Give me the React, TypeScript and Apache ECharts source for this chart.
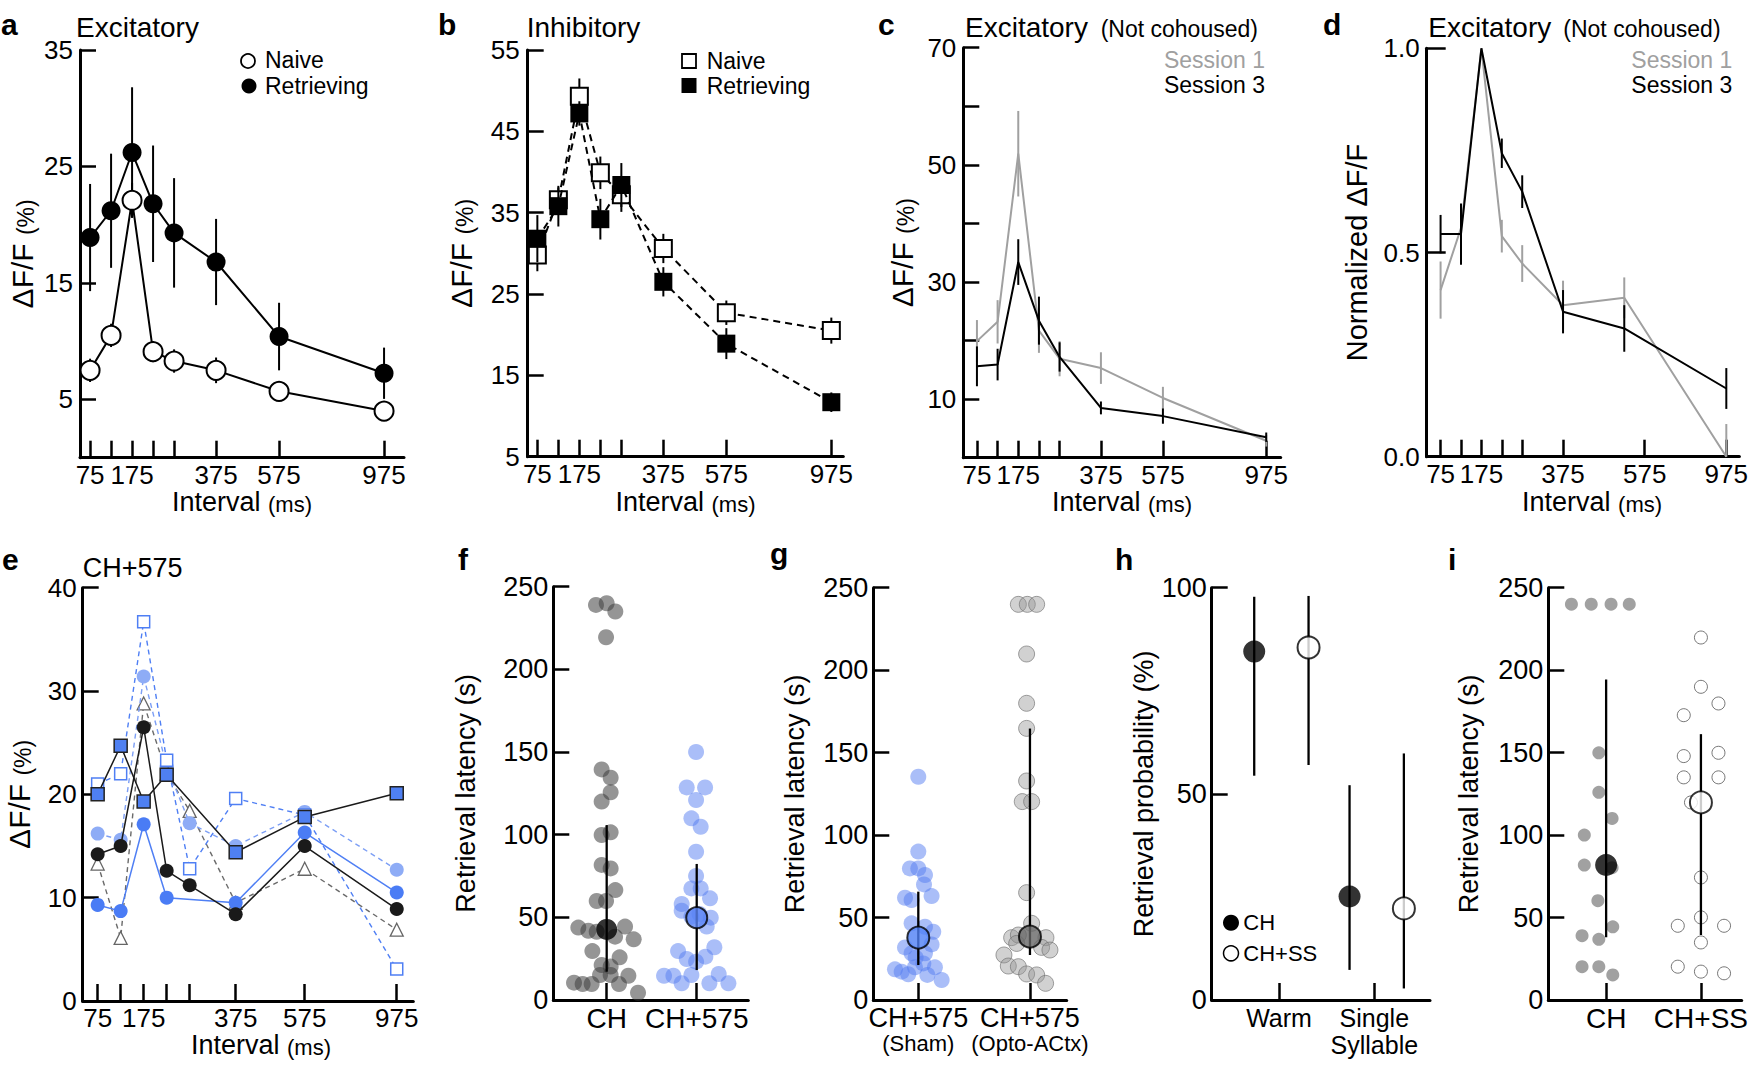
import React, { useEffect, useRef } from 'react';
import * as echarts from 'echarts';

const FONT = '"Liberation Sans", Arial, Helvetica, sans-serif';

// ---------- shared interval axis ----------
const intervalsMs = [75, 125, 175, 225, 275, 375, 575, 975];
const labelledIntervals = [75, 175, 375, 575, 975];
const posAC = [0, 1, 2, 3, 4, 6, 9, 14];
const tickPosD = [0, 1, 2, 3, 4, 6, 10, 14];
const dataPosD = [0, 1, 2, 3, 4, 6, 9, 14];
const posE = [0, 1, 2, 3, 4, 6, 9, 13];

// ---------- panel a (Excitatory) ----------
const aNaive = [7.5, 10.5, 22.1, 9.1, 8.3, 7.5, 5.7, 4.0];
const aNaiveErr = [1.0, 1.0, 1.5, 0.9, 1.0, 1.1, 0.5, 0.4];
const aRetr = [18.9, 21.2, 26.2, 21.8, 19.3, 16.8, 10.4, 7.25];
const aRetrErr = [4.6, 4.9, 5.6, 5.0, 4.7, 3.7, 2.9, 2.2];

// ---------- panel b (Inhibitory) ----------
const bNaive = [29.8, 36.6, 49.3, 39.9, 37.2, 30.6, 22.7, 20.5];
const bNaiveErr = [2.0, 1.5, 2.2, 2.0, 2.1, 1.8, 1.5, 1.6];
const bRetr = [31.8, 35.8, 47.2, 34.2, 38.4, 26.5, 18.9, 11.7];
const bRetrErr = [2.9, 2.5, 1.5, 2.5, 2.7, 1.8, 1.9, 1.2];

// ---------- panel c (Excitatory, not cohoused) ----------
const cS1 = [19.9, 23.2, 51.9, 21.7, 16.9, 15.3, 10.2, 2.9];
const cS1Err = [3.6, 3.7, 7.3, 3.8, 3.0, 2.7, 1.9, 1.0];
const cS3 = [15.6, 15.9, 33.4, 23.4, 17.2, 8.5, 7.1, 3.5];
const cS3Err = [3.4, 2.7, 3.9, 4.1, 2.5, 1.1, 1.3, 0.8];

// ---------- panel d (normalized) ----------
const dS1 = [0.408, 0.56, 1.0, 0.54, 0.473, 0.371, 0.389, 0.0];
const dS1Err = [0.07, 0.0, 0.0, 0.04, 0.045, 0.06, 0.05, 0.08];
const dS3 = [0.545, 0.545, 1.0, 0.743, 0.649, 0.355, 0.314, 0.167];
const dS3Err = [0.047, 0.075, 0.0, 0.036, 0.04, 0.053, 0.057, 0.05];

// ---------- panel e (CH+575 individual) ----------
const eBlueSq = [20.0, 24.7, 19.3, 21.9, null, 14.4, 17.8, 20.1];
const eBlackCirc = [14.2, 15.0, 26.5, 12.6, 11.2, 8.4, 15.0, 8.9];
const eBlueCirc = [9.3, 8.7, 17.1, 10.0, null, 9.5, 16.3, 10.5];
const eLightCirc = [16.2, 15.6, 31.4, 22.7, 17.2, 15.0, 18.3, 12.7];
const eOpenSq = [21.0, 22.0, 36.7, 23.3, 12.8, 19.6, 18.0, 3.1];
const eTri = [13.3, 6.1, 28.8, 22.0, 18.4, 9.5, 12.8, 6.9];

// ---------- panel f ----------
const fCats = ['CH', 'CH+575'];
const fCH = [239, 240, 235, 219.4, 139.5, 134.5, 125.6, 120, 99.8, 101.4, 81.7, 79.6, 66.5, 59.9, 59.9, 43.8, 41.9, 41.3, 44.4, 38.3, 36.7, 29.6, 25.8, 21.2, 20.2, 15.1, 15.1, 14.7, 10.5, 9.7, 9.7, 9.7, 4.4];
const fCHJit = [-0.119, 0, 0.096, -0.007, -0.056, 0.044, 0.044, -0.056, -0.056, 0.044, -0.056, 0.044, 0.096, -0.111, -0.007, -0.315, -0.204, -0.111, 0.204, 0.093, 0.3, -0.159, 0.144, -0.056, 0.044, -0.074, 0.044, 0.241, -0.363, -0.267, -0.167, 0.137, 0.348];
const fCH575 = [150, 128.6, 128.6, 121, 109.9, 104.8, 89.7, 75, 67.5, 67.5, 61.5, 58.1, 54, 50.4, 49.8, 44.4, 52, 29.6, 31.9, 24.8, 23.2, 26.2, 14.7, 14.7, 15.1, 15.7, 10.1, 10.1, 10.1];
const fCH575Jit = [-0.007, -0.111, 0.093, -0.007, -0.059, 0.044, -0.007, -0.007, -0.059, 0.044, 0.148, -0.167, -0.167, -0.059, 0.156, 0.111, 0.03, -0.207, 0.196, -0.111, -0.007, 0.096, -0.363, -0.259, -0.059, 0.244, -0.167, 0.141, 0.352];
const fMean = [42.7, 49.8];
const fLo = [17.1, 18.1];
const fHi = [105.8, 82.3];

// ---------- panel g ----------
const gSham = [135.4, 90, 79.8, 79.8, 75.8, 70.1, 62, 60.6, 63, 46.5, 44.4, 41.4, 31.9, 33.7, 28.3, 28.3, 25.7, 18.6, 17.2, 15.6, 19.8, 22.2, 19.8, 15.2, 12.1];
const gShamJit = [0, 0, -0.075, 0, 0.06, 0.051, -0.119, -0.06, 0.119, -0.06, 0.06, 0.134, -0.119, 0.119, -0.06, 0.06, -0.024, -0.209, -0.149, -0.09, -0.03, 0.045, 0.149, 0.081, 0.209];
const gOpto = [239.9, 239.9, 239.9, 209.8, 179.9, 164.7, 132.8, 120.3, 120.3, 65.1, 46.5, 37.8, 39.4, 34.3, 37.8, 31.9, 30.3, 27.3, 20.6, 20.2, 15.8, 15.2, 10.1];
const gOptoJit = [-0.104, -0.024, 0.06, -0.03, -0.03, -0.03, -0.03, -0.069, 0.015, -0.03, 0.015, -0.164, -0.104, -0.119, 0.143, 0.104, 0.179, -0.233, -0.194, -0.104, -0.03, 0.06, 0.14];
const gMean = [37.8, 38.4];
const gLo = [21.2, 27.3];
const gHi = [65.7, 164.6];

// ---------- panel h ----------
const hCats = ['Warm', 'Single\nSyllable'];
const hCH = [84.5, 25.1];
const hCHLo = [54.4, 7.3];
const hCHHi = [97.8, 52.1];
const hSS = [85.5, 22.2];
const hSSLo = [57, 2.8];
const hSSHi = [98, 59.8];

// ---------- panel i ----------
const iCats = ['CH', 'CH+SS'];
const iCH = [240, 240, 240, 240, 149.9, 125.9, 110.1, 100, 81.8, 80.2, 60.2, 39, 36.8, 44.4, 20.2, 20.2, 15.2];
const iCHJit = [-0.366, -0.157, 0.052, 0.244, -0.077, -0.077, 0.063, -0.23, -0.23, 0.063, -0.087, -0.254, -0.077, 0.07, -0.254, -0.077, 0.07];
const iSS = [219.8, 189.9, 179.8, 172.7, 147.9, 149.9, 135, 135, 119.8, 74.3, 50.1, 45, 45, 34.9, 20.2, 17.2, 16.2];
const iSSJit = [0, 0, 0.185, -0.181, -0.181, 0.185, -0.181, 0.185, -0.105, 0, 0, -0.244, 0.244, 0, -0.244, 0, 0.244];
const iMean = [81.8, 119.8];
const iLo = [38, 39.4];
const iHi = [194.3, 161.2];

// ---------- layout ----------
const GRIDS = [
  { left: 80, top: 50, width: 324, height: 407.7 },
  { left: 527.7, top: 50, width: 315.6, height: 406.7 },
  { left: 963.3, top: 47.7, width: 317.4, height: 410 },
  { left: 1426.7, top: 48.3, width: 316.6, height: 408.4 },
  { left: 82.7, top: 587.7, width: 330.6, height: 413.3 },
  { left: 553.3, top: 586.7, width: 195, height: 413.3 },
  { left: 873.3, top: 587.7, width: 193.4, height: 412.3 },
  { left: 1211.7, top: 587.7, width: 218.3, height: 412.3 },
  { left: 1548.3, top: 587.7, width: 195, height: 412.3 },
];

const AXLINE = { show: true, onZero: false, lineStyle: { color: '#000', width: 3 } };
const tick = (values: number[], length: number) => ({
  show: true, inside: true, length, customValues: values, lineStyle: { color: '#000', width: 2.5 },
});
const lbl = (values: number[], fontSize: number, margin: number, formatter?: any, rich?: any) => ({
  show: true, customValues: values, fontSize, fontFamily: FONT, color: '#000', margin, formatter, rich,
});

const nameRich = (big: number, small: number) => ({
  fontFamily: FONT, fontSize: big, color: '#000',
  rich: {
    m: { fontFamily: FONT, fontSize: big, color: '#000', lineHeight: big, verticalAlign: 'bottom' },
    s: { fontFamily: FONT, fontSize: small, color: '#000', lineHeight: small, verticalAlign: 'bottom' },
  },
});

function intervalX(gi: number, min: number, max: number, pos: number[], gap: number, padLeft: number) {
  const map: Record<string, string> = {};
  pos.forEach((p, i) => (map[String(p)] = String(intervalsMs[i])));
  const labelPos = pos.filter((_, i) => labelledIntervals.includes(intervalsMs[i]));
  return {
    gridIndex: gi, type: 'value', min, max,
    axisLine: AXLINE, axisTick: tick(pos, 17), splitLine: { show: false },
    axisLabel: lbl(labelPos, 26, 4, (v: number) => map[String(v)] ?? ''),
    name: '{m|Interval} {s|(ms)}', nameLocation: 'middle', nameGap: gap,
    nameTextStyle: { ...nameRich(27, 22), padding: [0, 0, 0, padLeft] },
  };
}

function catX(gi: number, min: number, max: number, cats: string[], fmt?: any, rich?: any) {
  return {
    gridIndex: gi, type: 'value', min, max,
    axisLine: AXLINE, axisTick: tick([1, 2], 17), splitLine: { show: false },
    axisLabel: lbl([1, 2], 28, 4, fmt ?? ((v: number) => cats[Math.round(v) - 1] ?? ''), rich),
  };
}

function yAx(gi: number, min: number, max: number, ticks: number[], labels: number[], fontSize: number,
  margin: number, name: string, gap: number, big: number, small: number, tickLen = 16, fmt?: any) {
  return {
    gridIndex: gi, type: 'value', min, max,
    axisLine: AXLINE, axisTick: tick(ticks, tickLen), splitLine: { show: false },
    axisLabel: lbl(labels, fontSize, margin, fmt),
    name, nameLocation: 'middle', nameGap: gap, nameRotate: 90, nameTextStyle: nameRich(big, small),
  };
}

function errSeries(gi: number, data: number[][], color: string, width: number, z: number) {
  return {
    type: 'custom', xAxisIndex: gi, yAxisIndex: gi, z, silent: true, clip: false,
    data, encode: { x: 0, y: [1, 2] },
    renderItem: (_p: any, api: any) => {
      const a = api.coord([api.value(0), api.value(1)]);
      const b = api.coord([api.value(0), api.value(2)]);
      return { type: 'line', shape: { x1: a[0], y1: a[1], x2: b[0], y2: b[1] }, style: { stroke: color, lineWidth: width } };
    },
  };
}

const errData = (pos: number[], v: number[], e: number[]) =>
  v.map((val, i) => [pos[i], Math.max(0, val - e[i]), val + e[i]]);

function lineSeries(gi: number, pos: number[], vals: (number | null)[], o: any) {
  const data = vals.map((v, i) => (v == null ? null : [pos[i], v])).filter((d) => d != null);
  return {
    type: 'line', xAxisIndex: gi, yAxisIndex: gi, z: o.z, silent: true, clip: false,
    data, symbol: o.symbol ?? 'none', symbolSize: o.size ?? 0, showSymbol: o.symbol != null && o.symbol !== 'none',
    lineStyle: { color: o.line, width: o.lw ?? 2, type: o.dash ?? 'solid' },
    itemStyle: { color: o.fill ?? o.line, borderColor: o.stroke ?? o.line, borderWidth: o.bw ?? 0 },
    emphasis: { disabled: true },
  };
}

function scatter(gi: number, cat: number, vals: number[], jit: number[], size: number, itemStyle: any, z: number) {
  return {
    type: 'scatter', xAxisIndex: gi, yAxisIndex: gi, z, silent: true, clip: false,
    data: vals.map((v, i) => [cat + jit[i], v]), symbolSize: size, itemStyle,
    emphasis: { disabled: true },
  };
}

const txt = (text: string, x: number, y: number, size: number, o: any = {}) => ({
  type: 'text', x, y, silent: true, z: 100,
  style: {
    text, fontSize: size, fontFamily: FONT, fill: o.fill ?? '#000', fontWeight: o.weight ?? 'normal',
    align: o.align ?? 'left', verticalAlign: 'middle',
  },
});

function buildOption() {
  const xAxis: any[] = [
    intervalX(0, -0.48, 14.95, posAC, 31, 0),
    intervalX(1, -0.46, 14.57, posAC, 32, 0),
    intervalX(2, -0.66, 14.7, posAC, 31, 0),
    intervalX(3, -0.68, 14.64, tickPosD, 32, 18),
    intervalX(4, -0.65, 13.72, posE, 29, 26),
    catX(5, 0.407, 2.573, fCats),
    catX(6, 0.597, 2.329, [],
      (v: number) => (Math.round(v) === 1 ? '{a|CH+575}\n{b|(Sham)}' : '{a|CH+575}\n{b|(Opto-ACtx)}'),
      {
        a: { fontFamily: FONT, fontSize: 27, color: '#000', lineHeight: 27 },
        b: { fontFamily: FONT, fontSize: 22, color: '#000', lineHeight: 24 },
      }),
    catX(7, 0.294, 2.584, hCats),
    catX(8, 0.39, 2.43, iCats),
  ];
  xAxis[7].axisLabel.fontSize = 25;
  xAxis[7].axisLabel.lineHeight = 27;

  const dfName = '{m|ΔF/F} {s|(%)}';
  const rl = '{m|Retrieval latency (s)}';
  const yAxis: any[] = [
    yAx(0, 0, 35, [5, 15, 25, 35], [5, 15, 25, 35], 26, 7, dfName, 43, 30, 23),
    yAx(1, 5, 55, [15, 25, 35, 45, 55], [5, 15, 25, 35, 45, 55], 26, 8, dfName, 51, 30, 23),
    yAx(2, 0, 70, [10, 20, 30, 40, 50, 60, 70], [10, 30, 50, 70], 26, 7, dfName, 46, 30, 23),
    yAx(3, 0, 1, [0.5, 1], [0, 0.5, 1], 26, 7, '{m|Normalized ΔF/F}', 55, 29, 23, 19, (v: number) => v.toFixed(1)),
    yAx(4, 0, 40, [10, 20, 30, 40], [0, 10, 20, 30, 40], 26, 6, dfName, 48, 30, 23),
    yAx(5, 0, 250, [50, 100, 150, 200, 250], [0, 50, 100, 150, 200, 250], 27, 5, rl, 74, 27, 22),
    yAx(6, 0, 250, [50, 100, 150, 200, 250], [0, 50, 100, 150, 200, 250], 27, 5, rl, 65, 27, 22),
    yAx(7, 0, 100, [50, 100], [0, 50, 100], 27, 5, '{m|Retrieval probability (%)}', 47, 27, 22),
    yAx(8, 0, 250, [50, 100, 150, 200, 250], [0, 50, 100, 150, 200, 250], 27, 5, rl, 66, 27, 22),
  ];

  const series: any[] = [];
  // a
  series.push(errSeries(0, errData(posAC, aRetr, aRetrErr), '#000', 2, 1));
  series.push(lineSeries(0, posAC, aRetr, { line: '#000', symbol: 'circle', size: 19, fill: '#000', z: 2 }));
  series.push(errSeries(0, errData(posAC, aNaive, aNaiveErr), '#000', 2, 3));
  series.push(lineSeries(0, posAC, aNaive, { line: '#000', symbol: 'circle', size: 19, fill: '#fff', stroke: '#000', bw: 2, z: 4 }));
  // b
  series.push(errSeries(1, errData(posAC, bNaive, bNaiveErr), '#000', 2, 1));
  series.push(lineSeries(1, posAC, bNaive, { line: '#000', dash: [7, 5], symbol: 'rect', size: 17, fill: '#fff', stroke: '#000', bw: 2, z: 2 }));
  series.push(errSeries(1, errData(posAC, bRetr, bRetrErr), '#000', 2, 3));
  series.push(lineSeries(1, posAC, bRetr, { line: '#000', dash: [7, 5], symbol: 'rect', size: 18, fill: '#000', z: 4 }));
  // c
  series.push(errSeries(2, errData(posAC, cS1, cS1Err), '#a0a0a0', 2, 1));
  series.push(lineSeries(2, posAC, cS1, { line: '#a0a0a0', z: 2 }));
  series.push(errSeries(2, errData(posAC, cS3, cS3Err), '#000', 2, 3));
  series.push(lineSeries(2, posAC, cS3, { line: '#000', z: 4 }));
  // d
  series.push(errSeries(3, errData(dataPosD, dS1, dS1Err), '#a0a0a0', 2, 1));
  series.push(lineSeries(3, dataPosD, dS1, { line: '#a0a0a0', z: 2 }));
  series.push(errSeries(3, errData(dataPosD, dS3, dS3Err), '#000', 2, 3));
  series.push(lineSeries(3, dataPosD, dS3, { line: '#000', z: 4 }));
  // e
  series.push(lineSeries(4, posE, eTri, { line: '#6a6a6a', dash: [5, 4], lw: 1.4, symbol: 'triangle', size: 13, fill: '#fff', stroke: '#666', bw: 1.3, z: 2 }));
  series.push(lineSeries(4, posE, eLightCirc, { line: '#7d9ff5', dash: [5, 4], lw: 1.4, symbol: 'circle', size: 14, fill: '#8eacf6', stroke: '#8eacf6', z: 3 }));
  series.push(lineSeries(4, posE, eOpenSq, { line: '#4f7ff4', dash: [5, 4], lw: 1.4, symbol: 'rect', size: 12, fill: '#fff', stroke: '#4f7ff4', bw: 1.5, z: 4 }));
  series.push(lineSeries(4, posE, eBlueCirc, { line: '#4f7ff4', lw: 1.5, symbol: 'circle', size: 14, fill: '#4a7cf5', stroke: '#4a7cf5', z: 5 }));
  series.push(lineSeries(4, posE, eBlackCirc, { line: '#1a1a1a', lw: 1.5, symbol: 'circle', size: 14, fill: '#1a1a1a', stroke: '#1a1a1a', z: 6 }));
  series.push({ ...lineSeries(4, posE, eBlueSq, { line: '#1a1a1a', lw: 1.5, symbol: 'rect', size: 13, fill: '#4f80f2', stroke: '#222', bw: 1.5, z: 7 }), connectNulls: true });
  // f
  const blueDot = { color: 'rgba(83,124,240,0.62)' };
  series.push(scatter(5, 1, fCH, fCHJit, 16, { color: 'rgba(60,60,60,0.68)' }, 2));
  series.push(scatter(5, 2, fCH575, fCH575Jit, 16, blueDot, 2));
  series.push(errSeries(5, [[1, fLo[0], fHi[0]], [2, fLo[1], fHi[1]]], '#000', 2.3, 3));
  series.push(scatter(5, 1, [fMean[0]], [0], 21, { color: '#000' }, 4));
  series.push(scatter(5, 2, [fMean[1]], [0], 21, { color: '#5a85f5', borderColor: '#000', borderWidth: 2 }, 4));
  // g
  series.push(scatter(6, 1, gSham, gShamJit, 16, blueDot, 2));
  series.push(scatter(6, 2, gOpto, gOptoJit, 16, { color: 'rgba(150,150,150,0.55)', borderColor: 'rgba(110,110,110,0.8)', borderWidth: 1 }, 2));
  series.push(errSeries(6, [[1, gLo[0], gHi[0]], [2, gLo[1], gHi[1]]], '#000', 2.3, 3));
  series.push(scatter(6, 1, [gMean[0]], [0], 22, { color: '#4f7ff5', borderColor: '#000', borderWidth: 2 }, 4));
  series.push(scatter(6, 2, [gMean[1]], [0], 22, { color: '#666', borderColor: '#000', borderWidth: 2 }, 4));
  // h
  const hOffCH = -0.26, hOffSS = 0.31;
  series.push(errSeries(7, hCH.map((_, i) => [i + 1 + hOffCH, hCHLo[i], hCHHi[i]]), '#000', 2.3, 3));
  series.push(errSeries(7, hSS.map((_, i) => [i + 1 + hOffSS, hSSLo[i], hSSHi[i]]), '#000', 2.3, 3));
  series.push(scatter(7, 1, hCH, hCH.map((_, i) => i + hOffCH), 22, { color: '#000' }, 4));
  series.push(scatter(7, 1, hSS, hSS.map((_, i) => i + hOffSS), 22, { color: '#fff', borderColor: '#000', borderWidth: 2 }, 4));
  // i
  series.push(scatter(8, 1, iCH, iCHJit, 13, { color: '#8a8a8a' }, 2));
  series.push(scatter(8, 2, iSS, iSSJit, 13, { color: '#fff', borderColor: '#555', borderWidth: 1 }, 2));
  series.push(errSeries(8, [[1, iLo[0], iHi[0]], [2, iLo[1], iHi[1]]], '#000', 2.3, 3));
  series.push(scatter(8, 1, [iMean[0]], [0], 22, { color: '#000' }, 4));
  series.push(scatter(8, 2, [iMean[1]], [0], 22, { color: '#fff', borderColor: '#000', borderWidth: 2 }, 4));

  const graphic: any[] = [
    // panel letters
    txt('a', 1, 24.6, 30, { weight: 'bold' }),
    txt('b', 438, 24.6, 30, { weight: 'bold' }),
    txt('c', 878, 24.6, 30, { weight: 'bold' }),
    txt('d', 1323, 24.6, 30, { weight: 'bold' }),
    txt('e', 2, 559.6, 30, { weight: 'bold' }),
    txt('f', 458, 559.6, 30, { weight: 'bold' }),
    txt('g', 770, 553.6, 30, { weight: 'bold' }),
    txt('h', 1115, 559.6, 30, { weight: 'bold' }),
    txt('i', 1448, 559.6, 30, { weight: 'bold' }),
    // titles
    txt('Excitatory', 76, 27.6, 28),
    txt('Inhibitory', 526.7, 27.6, 28),
    txt('Excitatory', 965, 27.6, 28),
    txt('(Not cohoused)', 1100.7, 29.3, 23),
    txt('Excitatory', 1428.3, 27.6, 28),
    txt('(Not cohoused)', 1563.3, 29.3, 23),
    txt('CH+575', 82.7, 568.3, 27),
    // legend a
    { type: 'circle', silent: true, z: 100, shape: { cx: 248, cy: 61, r: 7 }, style: { fill: '#fff', stroke: '#000', lineWidth: 1.8 } },
    txt('Naive', 265, 60.3, 23),
    { type: 'circle', silent: true, z: 100, shape: { cx: 249, cy: 86, r: 7.5 }, style: { fill: '#000' } },
    txt('Retrieving', 265, 86, 23),
    // legend b
    { type: 'rect', silent: true, z: 100, shape: { x: 682, y: 54, width: 14, height: 14 }, style: { fill: '#fff', stroke: '#000', lineWidth: 1.8 } },
    txt('Naive', 706.7, 60.5, 23),
    { type: 'rect', silent: true, z: 100, shape: { x: 681.5, y: 78, width: 15, height: 15 }, style: { fill: '#000' } },
    txt('Retrieving', 706.7, 85.5, 23),
    // legend c, d
    txt('Session 1', 1265, 60.3, 23, { align: 'right', fill: '#a0a0a0' }),
    txt('Session 3', 1265, 85.3, 23, { align: 'right' }),
    txt('Session 1', 1732.3, 60.3, 23, { align: 'right', fill: '#a0a0a0' }),
    txt('Session 3', 1732.3, 85.3, 23, { align: 'right' }),
    // legend h
    { type: 'circle', silent: true, z: 100, shape: { cx: 1231, cy: 922.7, r: 8 }, style: { fill: '#000' } },
    txt('CH', 1243.3, 922.7, 22),
    { type: 'circle', silent: true, z: 100, shape: { cx: 1231, cy: 953.3, r: 7.5 }, style: { fill: '#fff', stroke: '#000', lineWidth: 1.5 } },
    txt('CH+SS', 1243.3, 953.3, 22),
  ];

  return {
    animation: false,
    backgroundColor: '#fff',
    grid: GRIDS.map((g) => ({ ...g, containLabel: false })),
    xAxis,
    yAxis,
    series,
    graphic,
  };
}

export default function App() {
  const ref = useRef<HTMLDivElement>(null);
  useEffect(() => {
    document.body.style.margin = '0';
    const chart = echarts.init(ref.current!, null, { renderer: 'svg' });
    chart.setOption(buildOption() as any);
    return () => chart.dispose();
  }, []);
  return (
    <div
      ref={ref}
      style={{ position: 'fixed', left: 0, top: 0, width: 1751, height: 1065, background: '#fff' }}
    />
  );
}
